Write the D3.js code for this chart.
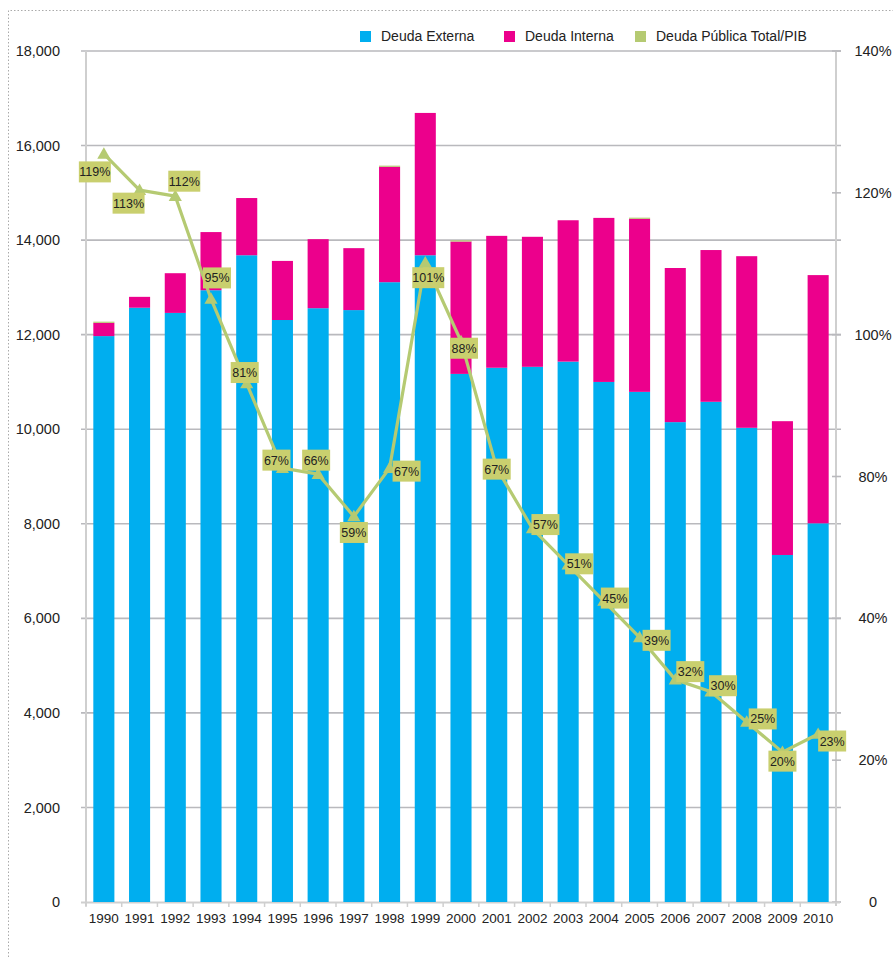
<!DOCTYPE html>
<html>
<head>
<meta charset="utf-8">
<script src="https://cdn.jsdelivr.net/npm/d3@7"></script>
<style>
  body { margin: 0; background: #fff; }
  text { font-family: "Liberation Sans", Arial, sans-serif; fill: #222; }
</style>
</head>
<body>
<div id="chart"></div>
<script>
// data
var years = ["1990","1991","1992","1993","1994","1995","1996","1997","1998","1999","2000",
             "2001","2002","2003","2004","2005","2006","2007","2008","2009","2010"];
var deudaExterna = [11970, 12570, 12460, 12940, 13680, 12310, 12560, 12520, 13110, 13680, 11170,
                    11300, 11320, 11430, 11000, 10790, 10150, 10580, 10030, 7340, 8010];
var deudaTotal = [12250, 12800, 13300, 14170, 14890, 13560, 14020, 13830, 15550, 16690, 13970,
                  14090, 14070, 14420, 14470, 14450, 13410, 13790, 13660, 10170, 13260];
var deudaInterna = deudaTotal.map(function(t, i){ return t - deudaExterna[i]; });
// thin green cap visible on a few bars
var pibCap = [25,0,0,0,0,0,0,0,25,0,25,0,0,0,0,25,0,0,0,0,0];
var deudaPIB = [119,113,112,95,81,67,66,59,67,101,88,67,57,51,45,39,32,30,25,20,23];
var leftTicks = [0,2000,4000,6000,8000,10000,12000,14000,16000,18000];
var rightTicks = ["0","20%","40%","80%","100%","120%","140%"];
var legendNames = ["Deuda Externa","Deuda Interna","Deuda Pública Total/PIB"];

var colors = { ext: "#00aeef", int: "#ec008c", pib: "#b5ca72", label: "#c9cf6e" };

// label nudges (layout only)
var labelNudge = [[-9,18],[-11,13],[9,-15],[6,-21],[-2,-11],[-6,-8],[-2,-14],[0,16],[17,3],[3,15],
                  [3,7],[0,1],[13,-4],[11,-1],[11,-3],[17,3],[15,-8],[12,-6],[16,-3],[0,9],[14,7]];

var W = 893, H = 957;
var svg = d3.select("#chart").append("svg").attr("width", W).attr("height", H);

// dotted frame
svg.append("path")
    .attr("d", "M8.5," + H + "V10.5H" + W)
    .attr("fill", "none").attr("stroke", "#aaa").attr("stroke-dasharray", "1.5,2");

var m = { left: 86, right: 836, top: 51, bottom: 902 };

var x = d3.scaleBand().domain(years).range([m.left, m.right]).paddingInner(0.41).paddingOuter(0.205);
var y = d3.scaleLinear().domain([0, 18000]).range([m.bottom, m.top]);
var yPct = d3.scaleLinear().domain([0, 140]).range([873, 27]);
var yRight = d3.scalePoint().domain(rightTicks).range([m.bottom, m.top]);

// gridlines
svg.append("g").selectAll("line").data(leftTicks.filter(function(d){ return d > 0; }))
    .enter().append("line")
    .attr("x1", m.left - 5).attr("x2", m.right + 5)
    .attr("y1", function(d){ return y(d); }).attr("y2", function(d){ return y(d); })
    .attr("stroke", "#b9b9bd").attr("stroke-width", 1.6);

// left axis
var gl = svg.append("g");
gl.append("line").attr("x1", m.left).attr("x2", m.left).attr("y1", m.top).attr("y2", m.bottom + 4)
    .attr("stroke", "#cfcfcf").attr("stroke-width", 2);
gl.selectAll("text").data(leftTicks).enter().append("text")
    .attr("x", 60).attr("y", function(d){ return y(d); })
    .attr("dy", "0.35em").attr("text-anchor", "end")
    .style("font-size", "14.5px")
    .text(function(d){ return d3.format(",")(d); });

// right axis
var gr = svg.append("g");
gr.append("line").attr("x1", m.right).attr("x2", m.right).attr("y1", m.top).attr("y2", m.bottom + 4)
    .attr("stroke", "#cfcfcf").attr("stroke-width", 2);
gr.selectAll("line.tk").data(rightTicks).enter().append("line").attr("class", "tk")
    .attr("x1", m.right - 4).attr("x2", m.right + 5)
    .attr("y1", function(d){ return yRight(d); }).attr("y2", function(d){ return yRight(d); })
    .attr("stroke", "#b9b9bd").attr("stroke-width", 1.6);
gr.selectAll("text").data(rightTicks).enter().append("text")
    .attr("x", 873).attr("y", function(d){ return yRight(d); })
    .attr("dy", "0.35em").attr("text-anchor", "middle")
    .style("font-size", "14.5px")
    .text(function(d){ return d; });

// bottom axis
var gb = svg.append("g");
gb.append("line").attr("x1", m.left - 5).attr("x2", m.right + 4).attr("y1", m.bottom + 0.5).attr("y2", m.bottom + 0.5)
    .attr("stroke", "#cfcfcf").attr("stroke-width", 2);
var stepGap = x.step() * x.paddingInner() / 2;
gb.selectAll("line.tk").data(years).enter().append("line").attr("class", "tk")
    .attr("x1", function(d){ return x(d) - stepGap; }).attr("x2", function(d){ return x(d) - stepGap; })
    .attr("y1", m.bottom).attr("y2", m.bottom + 5)
    .attr("stroke", "#cfcfcf").attr("stroke-width", 1.5);
gb.selectAll("text").data(years).enter().append("text")
    .attr("x", function(d){ return x(d) + x.bandwidth() / 2; })
    .attr("y", 923).attr("text-anchor", "middle")
    .style("font-size", "13.5px")
    .text(function(d){ return d; });

// stacked bars
var rows = years.map(function(yr, i){
    return { year: yr, ext: deudaExterna[i], int: deudaInterna[i], pib: pibCap[i] };
});
var stack = d3.stack().keys(["ext", "int", "pib"])(rows);
svg.append("g").selectAll("g").data(stack).enter().append("g")
    .attr("fill", function(d){ return colors[d.key]; })
    .selectAll("rect").data(function(d){ return d; }).enter().append("rect")
    .attr("x", function(d){ return x(d.data.year); })
    .attr("width", x.bandwidth())
    .attr("y", function(d){ return y(d[1]); })
    .attr("height", function(d){ return y(d[0]) - y(d[1]); });

// line
var pts = years.map(function(yr, i){
    return { x: x(yr) + x.bandwidth() / 2, y: yPct(deudaPIB[i]), v: deudaPIB[i], i: i };
});
svg.append("path").datum(pts)
    .attr("d", d3.line().x(function(d){ return d.x; }).y(function(d){ return d.y; }))
    .attr("fill", "none").attr("stroke", colors.pib).attr("stroke-width", 3.2)
    .attr("stroke-linejoin", "round");
svg.append("g").selectAll("path").data(pts).enter().append("path")
    .attr("d", d3.symbol().type(d3.symbolTriangle).size(75))
    .attr("transform", function(d){ return "translate(" + d.x + "," + (d.y + 1) + ")"; })
    .attr("fill", colors.pib);

// labels
var lg = svg.append("g").selectAll("g").data(pts).enter().append("g")
    .attr("transform", function(d){
        var n = labelNudge[d.i];
        return "translate(" + (d.x + n[0]) + "," + (d.y + n[1]) + ")";
    });
lg.append("rect")
    .attr("x", function(d){ return d.v >= 100 ? -16 : -14; })
    .attr("width", function(d){ return d.v >= 100 ? 32 : 28; })
    .attr("y", -10.5).attr("height", 21)
    .attr("fill", colors.label);
lg.append("text").attr("text-anchor", "middle").attr("dy", "0.36em")
    .style("font-size", "12.5px")
    .text(function(d){ return d.v + "%"; });

// legend
var legX = [360, 504, 635];
var leg = svg.append("g").selectAll("g").data(legendNames).enter().append("g")
    .attr("transform", function(d, i){ return "translate(" + legX[i] + ",31)"; });
leg.append("rect").attr("width", 11).attr("height", 11)
    .attr("fill", function(d, i){ return [colors.ext, colors.int, colors.pib][i]; });
leg.append("text").attr("x", 21).attr("y", 5.5).attr("dy", "0.35em")
    .style("font-size", "14px")
    .text(function(d){ return d; });
</script>
</body>
</html>
